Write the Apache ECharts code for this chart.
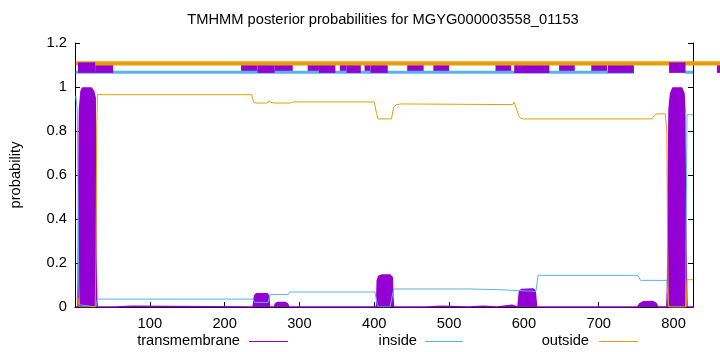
<!DOCTYPE html>
<html>
<head>
<meta charset="utf-8">
<script src="https://cdn.jsdelivr.net/npm/echarts@6/dist/echarts.min.js"></script>
<style>html,body{margin:0;padding:0;background:#fff}#c{width:720px;height:352px}</style>
</head>
<body>
<div id="c"></div>
<script>
// ---- data ----
const titleText = 'TMHMM posterior probabilities for MGYG000003558_01153';
const seqLength = 826;
const xTickLabels = [100, 200, 300, 400, 500, 600, 700, 800];
const yTickStep = 0.2;
const seriesNames = ['transmembrane', 'inside', 'outside'];

// transmembrane posterior probability (breakpoints, residue -> prob)
const tmProb = [
  [1,0],[4,0],[5,0.55],[6,0.9],[8,0.98],[10,0.995],[22,0.995],[25,0.98],[27,0.95],[28,0.25],[29,0.03],[30,0],
  [54,0],[55,0.003],[76,0.003],[77,0],
  [238,0],[240,0.05],[242,0.06],[257,0.06],[259,0.05],[260,0],
  [266,0],[268,0.015],[271,0.021],[281,0.021],[284,0.015],[286,0],
  [403,0],[404,0.12],[406,0.14],[410,0.145],[421,0.145],[424,0.135],[425,0.03],[426,0],
  [470,0],[471,0.003],[490,0.003],[491,0],
  [525,0],[526,0.003],[546,0.003],[547,0],
  [564,0],[566,0.008],[584,0.008],[586,0],
  [592,0],[594,0.07],[597,0.08],[612,0.082],[615,0.075],[617,0],
  [752,0],[755,0.015],[760,0.024],[772,0.025],[777,0.015],[779,0],
  [791,0],[792,0.1],[793,0.6],[794,0.9],[796,0.97],[799,0.995],[811,0.995],[814,0.97],[815,0.9],[816,0.4],[817,0.15],[818,0],
  [826,0]
];
const insideProb = [
  [1,0.96],[2,0.96],[3,0.9],[4,0.55],[5,0.1],[6,0.01],[28,0],[29,0.02],[30,0.036],
  [238,0.036],[240,0.021],[258,0.021],[261,0.057],[285,0.057],[287,0.068],
  [401,0.068],[404,0.01],[406,0],[421,0],[424,0.05],[426,0.082],
  [525,0.082],[527,0.079],[565,0.079],[567,0.071],[616,0.071],[619,0.144],
  [752,0.144],[756,0.121],[791,0.121],[793,0.02],[794,0],[816,0],[818,0.874],[826,0.874]
];
const outsideProb = [
  [1,0.04],[3,0.045],[4,0.04],[5,0.01],[6,0],[27,0],[28,0.2],[29,0.8],[30,0.965],
  [236,0.965],[239,0.93],[242,0.927],[257,0.927],[259,0.938],[262,0.93],[267,0.927],[288,0.927],[291,0.932],
  [400,0.932],[403,0.88],[405,0.855],[423,0.855],[426,0.91],[430,0.92],[436,0.923],
  [585,0.92],[587,0.932],[589,0.93],[593,0.87],[596,0.857],[599,0.855],
  [771,0.855],[774,0.87],[778,0.878],[789,0.878],[791,0.8],[792,0.3],[793,0],[817,0],[818,0.124],[826,0.124]
];

// predicted topology bars above the plot: [start, end]
const topOutsideLevel = 1.107;
const topInsideLevel = 1.067;
const topTmLevel = 1.088;
const topOutside = [[1, 870]];
const topInside = [[1, 747], [815, 826]];
const topTmOver = [[4, 27], [794, 816]];
const topTmMid = [[27, 51], [244, 267], [326, 348], [363, 382], [395, 418], [587, 634], [712, 747], [858, 870]];
const topTmUnder = [[222, 244], [267, 291], [311, 326], [354, 363], [387, 395], [444, 466], [479, 500], [562, 583], [647, 668], [690, 711]];

// ---- chart ----
const FONT = 'Liberation Sans';
const FS = 14.7;
const C_TM = '#9400d3', C_IN = '#56b4e9', C_OUT = '#e69f00';

function barSeries(name, segs, level, color, h, z) {
  return {
    type: 'custom', name: name, z: z, silent: true, clip: false,
    encode: { x: [0, 1], y: 2 },
    itemStyle: { color: color },
    data: segs.map(s => [s[0], s[1], level]),
    renderItem: function (params, api) {
      const a = api.coord([api.value(0), api.value(2)]);
      const b = api.coord([api.value(1), api.value(2)]);
      return { type: 'rect', shape: { x: a[0], y: a[1] - h / 2, width: b[0] - a[0], height: h }, style: { fill: color } };
    }
  };
}

// key (gnuplot style: text, then line sample to its right)
const keyLayout = [
  { textRight: 240, x1: 249, x2: 288, color: C_TM },
  { textRight: 417, x1: 425, x2: 463, color: C_IN },
  { textRight: 589, x1: 599, x2: 638, color: C_OUT }
];
const KEY_Y = 341;
const keyGraphics = [];
keyLayout.forEach((k, i) => {
  keyGraphics.push({ type: 'text', x: k.textRight, y: KEY_Y,
    style: { text: seriesNames[i], fontFamily: FONT, fontSize: FS, fill: '#000', textAlign: 'right', textVerticalAlign: 'middle' } });
  keyGraphics.push({ type: 'line', shape: { x1: k.x1, y1: KEY_Y + 0.5, x2: k.x2, y2: KEY_Y + 0.5 },
    style: { stroke: k.color, lineWidth: 1 } });
});

const chart = echarts.init(document.getElementById('c'), null, { renderer: 'canvas' });
chart.setOption({
  animation: false,
  backgroundColor: '#fff',
  color: [C_TM, C_IN, C_OUT],
  textStyle: { fontFamily: FONT },
  graphic: [
    { type: 'text', x: 383, y: 20, style: { text: titleText, fontFamily: FONT, fontSize: FS, fill: '#000', textAlign: 'center', textVerticalAlign: 'middle' } }
  ].concat(keyGraphics),
  grid: { left: 73, right: 27, top: 43, bottom: 45, show: false },
  xAxis: {
    type: 'value', min: 0, max: seqLength, interval: 100,
    axisLine: { show: true, lineStyle: { color: '#000', width: 1 } },
    axisTick: { show: true, inside: true, length: 5, lineStyle: { color: '#000' } },
    axisLabel: { fontFamily: FONT, fontSize: FS, color: '#000', margin: 9,
      formatter: v => (xTickLabels.indexOf(v) >= 0 ? String(v) : '') },
    splitLine: { show: false }
  },
  yAxis: [
    { type: 'value', min: 0, max: 1.2, interval: yTickStep, position: 'left',
      name: 'probability', nameLocation: 'middle', nameGap: 52, nameRotate: 90,
      nameTextStyle: { fontFamily: FONT, fontSize: FS, color: '#000' },
      axisLine: { show: true, lineStyle: { color: '#000', width: 1 } },
      axisTick: { show: true, inside: true, length: 5, lineStyle: { color: '#000' } },
      axisLabel: { fontFamily: FONT, fontSize: FS, color: '#000', margin: 8 },
      splitLine: { show: false } },
    { type: 'value', min: 0, max: 1.2, interval: yTickStep, position: 'right',
      axisLine: { show: true, lineStyle: { color: '#000', width: 1 } },
      axisTick: { show: true, inside: true, length: 5, lineStyle: { color: '#000' } },
      axisLabel: { show: false }, splitLine: { show: false } }
  ],
  series: [
    { type: 'line', name: seriesNames[0], data: tmProb, z: 2, symbol: 'none', showSymbol: false,
      itemStyle: { color: C_TM }, lineStyle: { color: C_TM, width: 1.5 }, areaStyle: { color: C_TM, opacity: 1 } },
    { type: 'line', name: seriesNames[1], data: insideProb, z: 3, symbol: 'none', showSymbol: false,
      itemStyle: { color: C_IN }, lineStyle: { color: C_IN, width: 1 } },
    { type: 'line', name: seriesNames[2], data: outsideProb, z: 4, symbol: 'none', showSymbol: false,
      itemStyle: { color: C_OUT }, lineStyle: { color: C_OUT, width: 1 } },
    barSeries('tmUnder', topTmUnder, topTmLevel, C_TM, 10.5, 5),
    barSeries('insideBar', topInside, topInsideLevel, C_IN, 3, 6),
    barSeries('tmMid', topTmMid, topTmLevel, C_TM, 10.5, 7),
    barSeries('outsideBar', topOutside, topOutsideLevel, C_OUT, 4.3, 8),
    barSeries('tmOver', topTmOver, topTmLevel, C_TM, 10.5, 9)
  ]
});
</script>
</body>
</html>
